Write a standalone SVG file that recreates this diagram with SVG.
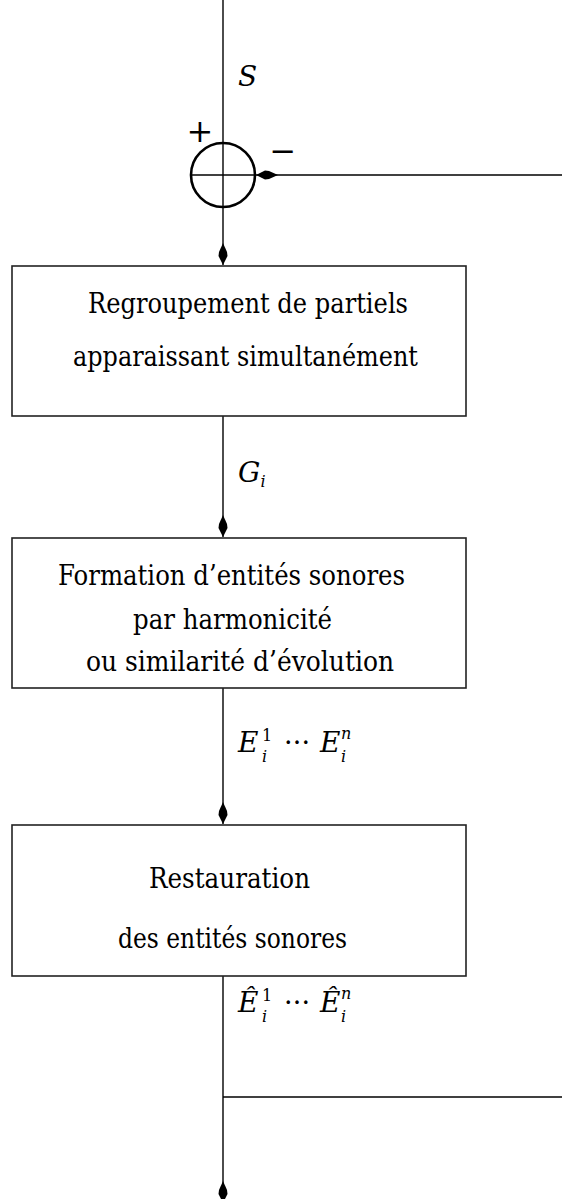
<svg xmlns="http://www.w3.org/2000/svg" width="562" height="1199" viewBox="0 0 562 1199">
<style>
.ln{stroke:#000;stroke-width:1.4;fill:none}
.box{stroke:#222;stroke-width:1.6;fill:#fff}
text{font-family:"DejaVu Serif","Liberation Serif","Noto Serif",serif;fill:#000}
.t{font-size:27px}
.pm{font-family:"DejaVu Serif","Liberation Serif",serif;font-size:32px}
.m{font-style:italic;font-size:28px}
.s{font-size:16px}
.si{font-style:italic;font-size:16px}
</style>
<defs>
<marker id="ah" markerUnits="userSpaceOnUse" viewBox="-23 -6 24 12" refX="0" refY="0" markerWidth="24" markerHeight="12" orient="auto">
<path d="M0,0 L-9,-4.5 L-13,-4 L-22,0 L-13,4 L-9,4.5 Z" fill="#000"/>
</marker>
</defs>
<g id="connectors">
<line class="ln" x1="223" y1="0" x2="223" y2="142"/>
<line class="ln" x1="223" y1="142" x2="223" y2="265" marker-end="url(#ah)"/>
<line class="ln" x1="562" y1="175" x2="256" y2="175" marker-end="url(#ah)"/>
<line class="ln" x1="223" y1="416" x2="223" y2="537" marker-end="url(#ah)"/>
<line class="ln" x1="223" y1="688" x2="223" y2="824" marker-end="url(#ah)"/>
<line class="ln" x1="223" y1="976" x2="223" y2="1203" marker-end="url(#ah)"/>
<line class="ln" x1="223" y1="1097" x2="562" y2="1097"/>
</g>
<g id="sum">
<circle cx="223" cy="175" r="32" fill="none" stroke="#000" stroke-width="2.6"/>
<line class="ln" x1="191" y1="175" x2="255" y2="175"/>
<text class="pm" x="200" y="142" text-anchor="middle">+</text>
<text class="pm" x="283" y="162" text-anchor="middle">−</text>
</g>
<g id="label-s"><text class="m" x="238" y="86">S</text></g>
<g id="node1">
<rect class="box" x="12" y="266" width="454" height="150"/>
<text class="t" x="88" y="313" textLength="320" lengthAdjust="spacingAndGlyphs">Regroupement de partiels</text>
<text class="t" x="73" y="366" textLength="345" lengthAdjust="spacingAndGlyphs">apparaissant simultanément</text>
</g>
<g id="label-g"><text class="m" x="238" y="482">G<tspan class="si" dy="5">i</tspan></text></g>
<g id="node2">
<rect class="box" x="12" y="538" width="454" height="150"/>
<text class="t" x="58" y="585" textLength="347" lengthAdjust="spacingAndGlyphs">Formation d’entités sonores</text>
<text class="t" x="133" y="629" textLength="199" lengthAdjust="spacingAndGlyphs">par harmonicité</text>
<text class="t" x="86" y="671" textLength="308" lengthAdjust="spacingAndGlyphs">ou similarité d’évolution</text>
</g>
<g id="label-e">
<text class="m" x="238" y="752">E</text>
<text class="s" x="262" y="741">1</text>
<text class="si" x="262" y="762">i</text>
<text class="t" x="284" y="752" textLength="26" lengthAdjust="spacing">···</text>
<text class="m" x="320" y="752">E</text>
<text class="si" x="341" y="739">n</text>
<text class="si" x="341" y="762">i</text>
</g>
<g id="node3">
<rect class="box" x="12" y="825" width="454" height="151"/>
<text class="t" x="149" y="888" textLength="161" lengthAdjust="spacingAndGlyphs">Restauration</text>
<text class="t" x="118" y="948" textLength="229" lengthAdjust="spacingAndGlyphs">des entités sonores</text>
</g>
<g id="label-ehat">
<text class="m" x="238" y="1012">Ê</text>
<text class="s" x="262" y="1001">1</text>
<text class="si" x="262" y="1022">i</text>
<text class="t" x="284" y="1012" textLength="26" lengthAdjust="spacing">···</text>
<text class="m" x="320" y="1012">Ê</text>
<text class="si" x="341" y="999">n</text>
<text class="si" x="341" y="1022">i</text>
</g>
</svg>
